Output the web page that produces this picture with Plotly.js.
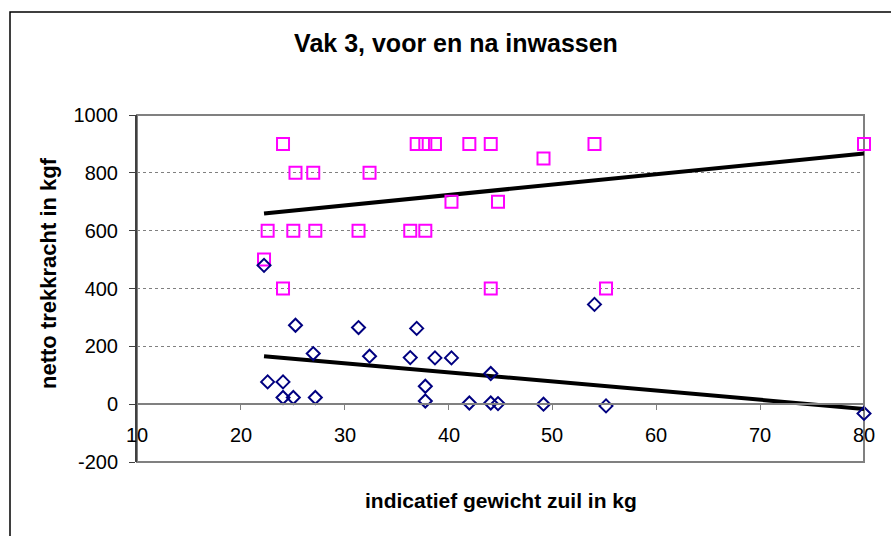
<!DOCTYPE html>
<html><head><meta charset="utf-8">
<script src="https://cdn.plot.ly/plotly-3.0.1.min.js"></script>
<style>html,body{margin:0;padding:0;background:#fff}#chart{width:891px;height:536px}</style>
</head><body><div id="chart"></div>
<script>
// indicatief gewicht zuil (kg)
const xBefore = [22.23, 22.58, 24.06, 24.06, 25.05, 25.26, 26.97, 27.17, 31.33, 32.39, 36.31, 36.93, 37.76, 37.76, 38.69, 40.28, 42.0, 44.06, 44.06, 44.76, 49.14, 54.05, 55.16, 80];
const yBefore = [480, 77, 77, 23, 23, 273, 175, 23, 265, 166, 161, 262, 62, 11, 160, 160, 4, 106, 4, 2, 0, 345, -6, -32];
const xAfter  = [22.23, 22.58, 24.06, 24.06, 25.05, 25.26, 26.97, 27.17, 31.33, 32.39, 36.31, 36.93, 37.76, 37.76, 38.69, 40.28, 42.0, 44.06, 44.06, 44.76, 49.14, 54.05, 55.16, 80];
const yAfter  = [500, 600, 900, 400, 600, 800, 800, 600, 600, 800, 600, 900, 900, 600, 900, 700, 900, 900, 400, 700, 850, 900, 400, 900];
const xTicks = [10, 20, 30, 40, 50, 60, 70, 80];
const yTicks = [-200, 0, 200, 400, 600, 800, 1000];

function trend(xs, ys) {
  const n = xs.length;
  const mx = xs.reduce((a, b) => a + b, 0) / n;
  const my = ys.reduce((a, b) => a + b, 0) / n;
  let sxy = 0, sxx = 0;
  for (let i = 0; i < n; i++) { sxy += (xs[i] - mx) * (ys[i] - my); sxx += (xs[i] - mx) ** 2; }
  const b = sxy / sxx, a = my - b * mx;
  const x0 = Math.min(...xs), x1 = Math.max(...xs);
  return { x: [x0, x1], y: [a + b * x0, a + b * x1] };
}
const tB = trend(xBefore, yBefore);
const tA = trend(xAfter, yAfter);

const FONT = 'Arial, "Liberation Sans", sans-serif';
const traces = [
  { x: tA.x, y: tA.y, mode: 'lines', line: { color: '#000', width: 4 }, showlegend: false, hoverinfo: 'skip' },
  { x: tB.x, y: tB.y, mode: 'lines', line: { color: '#000', width: 4 }, showlegend: false, hoverinfo: 'skip' },
  { x: xAfter, y: yAfter, mode: 'markers', name: 'na inwassen', cliponaxis: false,
    marker: { symbol: 'square-open', size: 12, color: '#FF00FF', line: { color: '#FF00FF', width: 2 } } },
  { x: xBefore, y: yBefore, mode: 'markers', name: 'voor inwassen', cliponaxis: false,
    marker: { symbol: 'diamond-open', size: 10, color: '#000080', line: { color: '#000080', width: 2 } } }
];

// x tick labels sit below the x axis line (which crosses at y = 0)
const xTickLabels = xTicks.map(v => ({
  text: String(v), xref: 'x', yref: 'paper', x: v, y: (462 - 435) / 347,
  showarrow: false, xanchor: 'center', yanchor: 'middle',
  font: { family: FONT, size: 20, color: '#000' }
}));

const layout = {
  width: 891, height: 536,
  margin: { l: 137, r: 27, t: 115, b: 74, pad: 0 },
  paper_bgcolor: '#fff', plot_bgcolor: '#fff',
  showlegend: false,
  font: { family: FONT, color: '#000' },
  title: { text: 'Vak 3, voor en na inwassen', x: 456 / 891, xref: 'container', xanchor: 'center',
           y: 1 - 43 / 536, yref: 'container', yanchor: 'middle',
           font: { family: FONT, size: 25, weight: 'bold', color: '#000' } },
  xaxis: { range: [10, 80], tickvals: xTicks, showticklabels: false,
           anchor: 'free', position: 200 / 1200,
           showline: true, linecolor: '#808080', linewidth: 2,
           ticks: 'outside', ticklen: 5, tickcolor: '#808080', tickwidth: 1,
           showgrid: false, zeroline: false },
  yaxis: { range: [-200, 1000], tickvals: yTicks, ticktext: yTicks.map(String),
           showline: true, linecolor: '#404040', linewidth: 2,
           ticks: 'outside', ticklen: 6, tickcolor: '#404040', tickwidth: 1,
           showgrid: true, gridcolor: '#808080', gridwidth: 1, griddash: 'dot',
           zeroline: false, ticklabelstandoff: 7,
           tickfont: { family: FONT, size: 20, color: '#000' } },
  shapes: [
    { type: 'rect', xref: 'paper', yref: 'paper', x0: 0, x1: 1, y0: 0, y1: 1,
      line: { color: '#808080', width: 2 }, layer: 'below' },
    { type: 'rect', xref: 'paper', yref: 'paper', x0: (10 - 137) / 727, x1: 1.06, y0: -0.23, y1: 1 + (115 - 12) / 347,
      line: { color: '#000', width: 1.5 }, layer: 'below' }
  ],
  annotations: xTickLabels.concat([
    { text: 'netto trekkracht in kgf', xref: 'paper', yref: 'paper', x: (48 - 137) / 727, y: (462 - 273) / 347,
      textangle: -90, showarrow: false, xanchor: 'center', yanchor: 'middle',
      font: { family: FONT, size: 22, weight: 'bold', color: '#000' } },
    { text: 'indicatief gewicht zuil in kg', xref: 'paper', yref: 'paper', x: 0.5, y: -(500 - 462) / 347,
      showarrow: false, xanchor: 'center', yanchor: 'middle',
      font: { family: FONT, size: 21, weight: 'bold', color: '#000' } }
  ])
};

Plotly.newPlot('chart', traces, layout, { displayModeBar: false, staticPlot: true });
</script>
</body></html>
